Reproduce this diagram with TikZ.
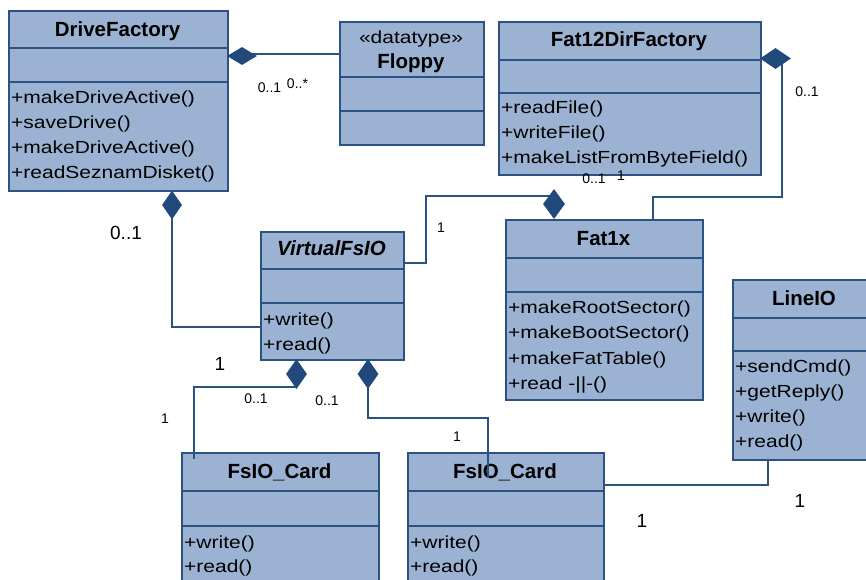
\documentclass[tikz,border=0pt]{standalone}
\usepackage{fontspec}
\setmainfont{Liberation Sans}
\newfontfamily\opfont{Liberation Sans}[FakeStretch=1.2]
\usetikzlibrary{shapes.geometric}
\definecolor{umlfill}{HTML}{9BB2D2}
\definecolor{umlline}{HTML}{2B5283}
\definecolor{umldiam}{HTML}{21497B}
\tikzset{
  classbox/.style={draw=umlline, fill=umlfill, line width=1.5pt, rectangle, inner sep=0pt, anchor=north west},
  sepline/.style={draw=umlline, line width=1.4pt},
  conn/.style={draw=umlline, line width=1.2pt},
  comp/.style={fill=umldiam, draw=none, diamond, inner sep=0pt},
  title/.style={font=\bfseries\fontsize{20.5}{24}\selectfont, anchor=base, inner sep=0pt},
  op/.style={font=\opfont\fontsize{17.5}{25}\selectfont, anchor=base west, inner sep=0pt},
  mult/.style={font=\fontsize{14}{16}\selectfont, inner sep=0pt},
  multbig/.style={font=\fontsize{19}{22}\selectfont, inner sep=0pt},
}
% class box: name, left, top, right, first separator, second separator, bottom
\newcommand\umlclass[7]{%
  \node[classbox, minimum width=#4pt-#2pt, minimum height=#7pt-#3pt] (#1) at (#2,#3) {};
  \draw[sepline] (#2,#5) -- (#4,#5) (#2,#6) -- (#4,#6);}
\begin{document}
\begin{tikzpicture}[x=1pt,y=-1pt]
\useasboundingbox (0,0) rectangle (866,579);
\clip (0,0) rectangle (866,579);

% classes
\umlclass{df}{8}{10}{227}{48}{82}{190}
\umlclass{fl}{339}{21}{483}{77}{111}{144}
\umlclass{fz}{498}{21}{760}{60}{93}{174}
\umlclass{fx}{505}{219}{702}{258}{292}{399}
\umlclass{vf}{260}{231}{403}{269}{303}{359}
\umlclass{li}{732}{279}{876}{318}{351}{459}
\umlclass{ca}{181}{452}{378}{491}{526}{600}
\umlclass{cb}{407}{452}{603}{491}{526}{600}

% titles
\node[title] (dft) at (117.5,36) {DriveFactory};
\node[font=\opfont\fontsize{17.5}{20}\selectfont, anchor=base, inner sep=0pt] (fls) at (411,43) {«datatype»};
\node[title] (flt) at (411,68) {Floppy};
\node[title] (fzt) at (629,46) {Fat12DirFactory};
\node[title] (fxt) at (603.5,245) {Fat1x};
\node[title, font=\bfseries\itshape\fontsize{20.5}{24}\selectfont] (vft) at (331.5,255) {VirtualFsIO};
\node[title] (lit) at (804,305) {LineIO};
\node[title] (cat) at (279.5,478) {FsIO\_Card};
\node[title] (cbt) at (505,478) {FsIO\_Card};

% operations
\node[op] (df1) at (11,103) {+makeDriveActive()};
\node[op] (df2) at (11,128) {+saveDrive()};
\node[op] (df3) at (11,153) {+makeDriveActive()};
\node[op] (df4) at (11,178) {+readSeznamDisket()};
\node[op] (fz1) at (501,113) {+readFile()};
\node[op] (fz2) at (501,138) {+writeFile()};
\node[op] (fz3) at (501,163) {+makeListFromByteField()};
\node[op] (fx1) at (508,313) {+makeRootSector()};
\node[op] (fx2) at (508,338.5) {+makeBootSector()};
\node[op] (fx3) at (508,364) {+makeFatTable()};
\node[op] (fx4) at (508,389.5) {+read -||-()};
\node[op] (vf1) at (263,325) {+write()};
\node[op] (vf2) at (263,350) {+read()};
\node[op] (li1) at (735,372) {+sendCmd()};
\node[op] (li2) at (735,397) {+getReply()};
\node[op] (li3) at (735,422) {+write()};
\node[op] (li4) at (735,447) {+read()};
\node[op] (ca1) at (184,548) {+write()};
\node[op] (ca2) at (184,572) {+read()};
\node[op] (cb1) at (410,548) {+write()};
\node[op] (cb2) at (410,572) {+read()};

% composition diamonds (placed first as anchors, redrawn on top below)
\coordinate (d1c) at (242,54);
\coordinate (d2c) at (775.5,58.5);
\coordinate (d3c) at (554,204);
\coordinate (d4c) at (172,205);
\coordinate (d5c) at (296.5,374);
\coordinate (d6c) at (368,374);

% bend points
\coordinate (b2a) at (782,197);
\coordinate (b2b) at (653,197);
\coordinate (b3a) at (426,196);
\coordinate (b3b) at (426,263);
\coordinate (b4) at (172,327);
\coordinate (b5a) at (296.5,387);
\coordinate (b5b) at (194,387);
\coordinate (e5) at (194,459);
\coordinate (b6a) at (368,418);
\coordinate (b6b) at (488,418);
\coordinate (e6) at (488,478);
\coordinate (b7a) at (603,485);
\coordinate (b7b) at (768,485);

% connectors
\draw[conn] (d1c) -- (d1c -| fl.west);
\draw[conn] (d2c -| b2a) -- (b2a) -- (b2b) -- (b2b |- fx.north);
\draw[conn] (d3c |- b3a) -- (b3a) -- (b3b) -- (b3b -| vf.east);
\draw[conn] (d4c) -- (b4) -- (b4 -| vf.west);
\draw[conn] (d5c) -- (b5a) -- (b5b) -- (e5);
\draw[conn] (d6c) -- (b6a) -- (b6b) -- (e6);
\draw[conn] (b7a) -- (b7b) -- (b7b |- li.south);

% diamonds
\node[comp, minimum width=30pt, minimum height=18pt] (d1) at (242,56) {};
\node[comp, minimum width=31pt, minimum height=21pt] (d2) at (d2c) {};
\node[comp, minimum width=22pt, minimum height=30pt] (d3) at (d3c) {};
\node[comp, minimum width=20pt, minimum height=29pt] (d4) at (d4c) {};
\node[comp, minimum width=21pt, minimum height=30pt] (d5) at (d5c) {};
\node[comp, minimum width=21pt, minimum height=30pt] (d6) at (d6c) {};

% multiplicities
\node[mult] (m1) at (269.5,88) {0..1};
\node[mult] (m2) at (297.5,84) {0..*};
\node[mult] (m3) at (807,92) {0..1};
\node[mult] (m4) at (594,179) {0..1};
\node[mult] (m5) at (621,176) {1};
\node[mult] (m6) at (441,228) {1};
\node[multbig] (m7) at (126,233) {0..1};
\node[multbig] (m8) at (220,364) {1};
\node[mult] (m9) at (256,399) {0..1};
\node[mult] (m10) at (327,401) {0..1};
\node[mult] (m11) at (165,419) {1};
\node[mult] (m12) at (457,437) {1};
\node[multbig] (m13) at (800,501) {1};
\node[multbig] (m14) at (642,521) {1};
\end{tikzpicture}
\end{document}
